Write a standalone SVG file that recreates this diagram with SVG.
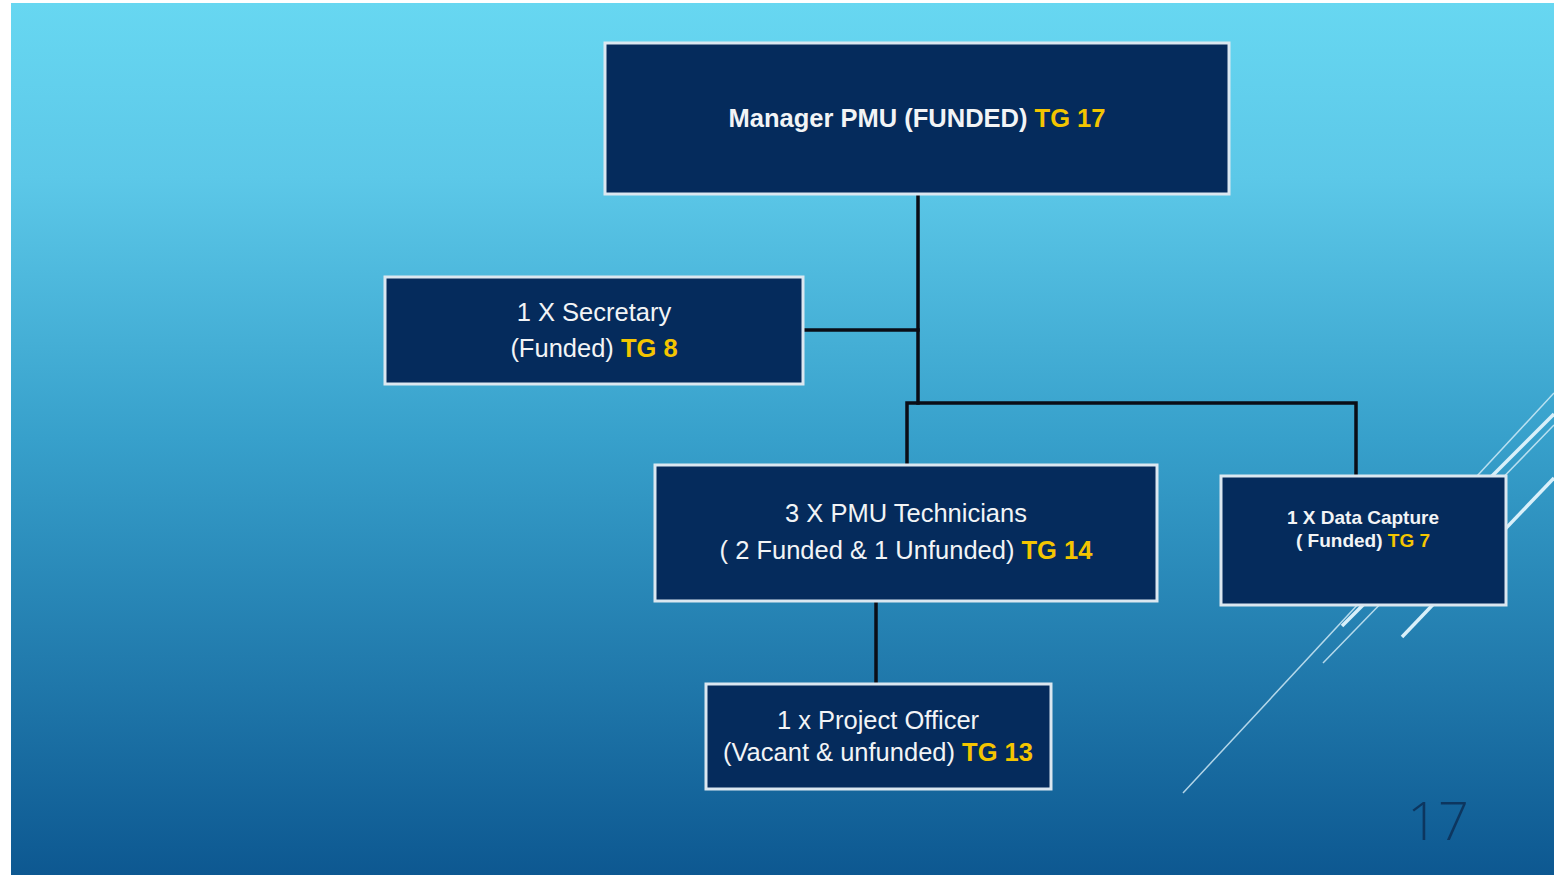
<svg xmlns="http://www.w3.org/2000/svg" width="1554" height="875" viewBox="0 0 1554 875">
<defs>
<linearGradient id="bg" x1="0" y1="0" x2="0" y2="1">
<stop offset="0" stop-color="#67d7f1"/>
<stop offset="0.2" stop-color="#5cc8e8"/>
<stop offset="0.5" stop-color="#37a0cb"/>
<stop offset="1" stop-color="#0d5891"/>
</linearGradient>
<style>
.box{fill:#052b5c;stroke:#dbe7f0;stroke-width:3}
.t{font-family:"Liberation Sans",Arial,sans-serif;fill:#f2f4f6;text-anchor:middle;font-size:25.5px}
.b{font-weight:bold}
.y{fill:#f4c500;font-weight:bold}
.con{stroke:#0a0d16;stroke-width:3.5;fill:none;stroke-linecap:square}
.dl{stroke:#d9f0fa;fill:none}
</style>
</defs>
<rect x="0" y="0" width="1554" height="875" fill="#ffffff"/>
<rect x="11" y="3" width="1543" height="872" fill="url(#bg)"/>
<g id="decor">
<line class="dl" x1="1183" y1="793" x2="1554" y2="393" stroke-width="1.5" opacity="0.8"/>
<line class="dl" x1="1323" y1="663" x2="1554" y2="425" stroke-width="1.5" opacity="0.8"/>
<line class="dl" x1="1342" y1="626" x2="1554" y2="414" stroke-width="3.5"/>
<line class="dl" x1="1402" y1="637" x2="1554" y2="478" stroke-width="3.5"/>
</g>
<g id="connectors">
<line class="con" x1="918" y1="195" x2="918" y2="403"/>
<line class="con" x1="804" y1="330" x2="918" y2="330"/>
<polyline class="con" points="907,464 907,403 1356,403 1356,475"/>
<line class="con" x1="876" y1="602" x2="876" y2="683"/>
</g>
<g id="manager">
<rect class="box" x="605" y="43" width="624" height="151"/>
<text class="t b" x="917" y="127">Manager PMU (FUNDED) <tspan class="y">TG 17</tspan></text>
</g>
<g id="secretary">
<rect class="box" x="385" y="277" width="418" height="107"/>
<text class="t" x="594" y="321">1 X Secretary</text>
<text class="t" x="594" y="357">(Funded) <tspan class="y">TG 8</tspan></text>
</g>
<g id="technicians">
<rect class="box" x="655" y="465" width="502" height="136"/>
<text class="t" x="906" y="522">3 X PMU Technicians</text>
<text class="t" x="906" y="559">( 2 Funded &amp; 1 Unfunded) <tspan class="y">TG 14</tspan></text>
</g>
<g id="datacapture">
<rect class="box" x="1221" y="476" width="285" height="129"/>
<text class="t b" x="1363" y="524" style="font-size:19px">1 X Data Capture</text>
<text class="t b" x="1363" y="547" style="font-size:19px">( Funded) <tspan class="y">TG 7</tspan></text>
</g>
<g id="officer">
<rect class="box" x="706" y="684" width="345" height="105"/>
<text class="t" x="878" y="729">1 x Project Officer</text>
<text class="t" x="878" y="761">(Vacant &amp; unfunded) <tspan class="y">TG 13</tspan></text>
</g>
<text x="1438" y="840" font-family="'Open Sans','Liberation Sans',sans-serif" font-weight="300" font-size="54" fill="#0d365f" text-anchor="middle">17</text>
</svg>
